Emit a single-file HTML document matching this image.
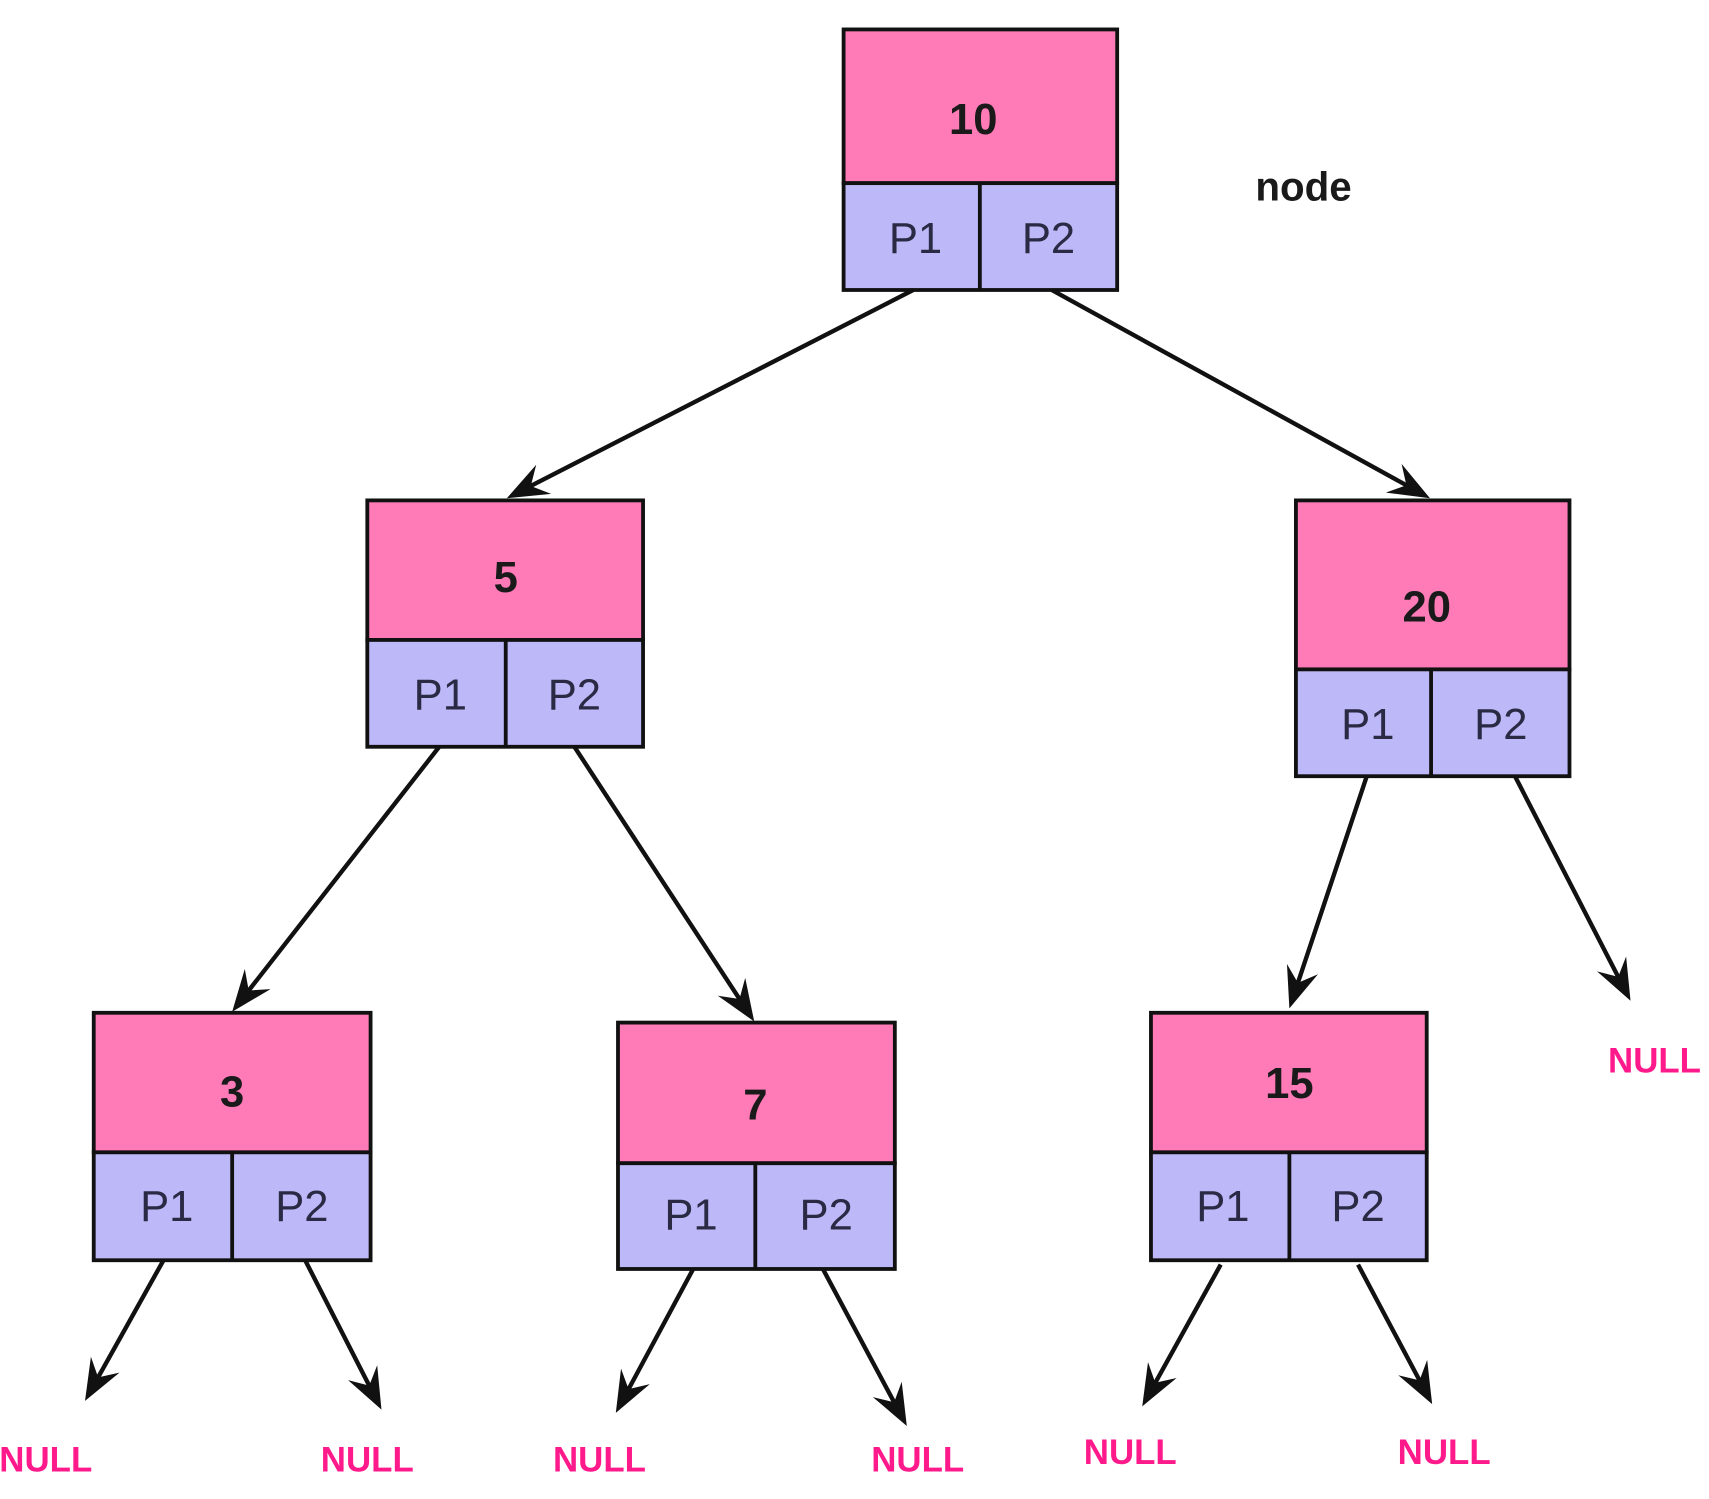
<!DOCTYPE html>
<html><head><meta charset="utf-8"><style>
html,body{margin:0;padding:0;background:#fff;}
svg{display:block;}
</style></head><body>
<svg width="1709" height="1499" viewBox="0 0 1568 1375" preserveAspectRatio="none" xmlns="http://www.w3.org/2000/svg">
<g font-family="'Liberation Sans', sans-serif">
<g stroke="#111" stroke-width="3.5">
<rect x="774" y="27" width="251" height="141" fill="#ff7bb8"/><rect x="774" y="168" width="251" height="98" fill="#bdb8f7"/><line x1="899" y1="168" x2="899" y2="266"/>
<rect x="337" y="459" width="253" height="128" fill="#ff7bb8"/><rect x="337" y="587" width="253" height="98" fill="#bdb8f7"/><line x1="464" y1="587" x2="464" y2="685"/>
<rect x="1189" y="459" width="251" height="155" fill="#ff7bb8"/><rect x="1189" y="614" width="251" height="98" fill="#bdb8f7"/><line x1="1313" y1="614" x2="1313" y2="712"/>
<rect x="86" y="929" width="254" height="128" fill="#ff7bb8"/><rect x="86" y="1057" width="254" height="99" fill="#bdb8f7"/><line x1="213" y1="1057" x2="213" y2="1156"/>
<rect x="567" y="938" width="254" height="129" fill="#ff7bb8"/><rect x="567" y="1067" width="254" height="97" fill="#bdb8f7"/><line x1="693" y1="1067" x2="693" y2="1164"/>
<rect x="1056" y="929" width="253" height="128" fill="#ff7bb8"/><rect x="1056" y="1057" width="253" height="99" fill="#bdb8f7"/><line x1="1183" y1="1057" x2="1183" y2="1156"/>
</g>
<g font-weight="bold" font-size="40" fill="#1a1a1a" text-anchor="middle">
<text x="893" y="123">10</text>
<text x="464" y="543">5</text>
<text x="1309" y="570">20</text>
<text x="213" y="1015">3</text>
<text x="693" y="1027">7</text>
<text x="1183" y="1007">15</text>
<text x="1196" y="184" font-size="37">node</text>
</g>
<g font-size="40" fill="#2a2a44" text-anchor="middle">
<text x="840" y="232">P1</text><text x="962" y="232">P2</text>
<text x="404" y="651">P1</text><text x="527" y="651">P2</text>
<text x="1255" y="678">P1</text><text x="1377" y="678">P2</text>
<text x="153" y="1120">P1</text><text x="277" y="1120">P2</text>
<text x="634" y="1128">P1</text><text x="758" y="1128">P2</text>
<text x="1122" y="1120">P1</text><text x="1246" y="1120">P2</text>
</g>
<g font-weight="bold" font-size="32" fill="#ff1a8c" text-anchor="middle">
<text x="42" y="1350">NULL</text>
<text x="337" y="1350">NULL</text>
<text x="550" y="1350">NULL</text>
<text x="842" y="1350">NULL</text>
<text x="1037" y="1343">NULL</text>
<text x="1325" y="1343">NULL</text>
<text x="1518" y="984">NULL</text>
</g>
<g stroke="#111" stroke-width="4" id="lines"></g>
<g fill="#111" stroke="none" id="heads"></g>
</g>
<script>
(function(){
var L=[[838,266,465,457],[965,266,1312,457],[403,685,213,928],[527,685,692,937],[1254,712,1183,925],[1390,712,1496,918],[150,1156,78,1285],[280,1156,350,1293],[636,1164,565,1296],[755,1164,832,1308],[1120,1160,1048,1290],[1246,1160,1314,1288]];
var g=document.getElementById('heads'),gl=document.getElementById('lines'),ns='http://www.w3.org/2000/svg';
L.forEach(function(a){var dx=a[2]-a[0],dy=a[3]-a[1],d=Math.sqrt(dx*dx+dy*dy),ux=dx/d,uy=dy/d,px=-uy,py=ux,len=38,w=15;
var bx=a[2]-ux*len,by=a[3]-uy*len,mx=a[2]-ux*len*0.65,my=a[3]-uy*len*0.65;
var l=document.createElementNS(ns,'line');
l.setAttribute('x1',a[0]);l.setAttribute('y1',a[1]);l.setAttribute('x2',mx);l.setAttribute('y2',my);gl.appendChild(l);
var p=document.createElementNS(ns,'polygon');
p.setAttribute('points',a[2]+','+a[3]+' '+(bx+px*w)+','+(by+py*w)+' '+mx+','+my+' '+(bx-px*w)+','+(by-py*w));
g.appendChild(p);});
})();
</script>
</svg>
</body></html>
